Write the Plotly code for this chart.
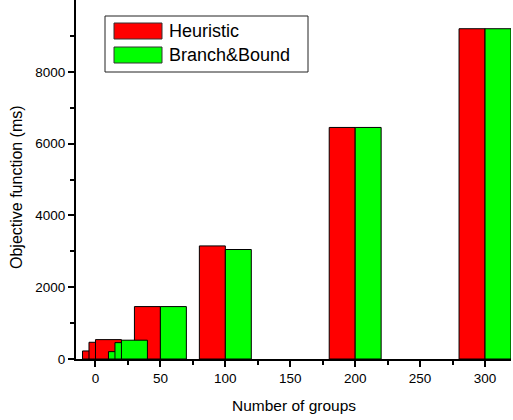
import plotly.graph_objects as go

groups = [10, 15, 20, 50, 100, 200, 300]
heuristic = [224, 466, 540, 1460, 3150, 6450, 9200]
branch_bound = [205, 456, 524, 1460, 3050, 6450, 9200]
series_names = ["Heuristic", "Branch&Bound"]
series_colors = ["#FF0000", "#00FF00"]
x_title = "Number of groups"
y_title = "Objective function (ms)"

W, H = 513, 420
ML, MR, MT, MB = 76, 2, 0, 61
PW, PH = W - ML - MR, H - MT - MB
FONT = "Liberation Sans, Arial, sans-serif"

def px_x(p):
    return (p - ML) / PW

def px_y(p):
    return (H - MB - p) / PH

fig = go.Figure()
fig.add_trace(go.Bar(x=groups, y=heuristic, name=series_names[0], width=20, offset=-20,
                     marker=dict(color=series_colors[0], line=dict(color="black", width=1)),
                     showlegend=False))
fig.add_trace(go.Bar(x=groups, y=branch_bound, name=series_names[1], width=20, offset=0,
                     marker=dict(color=series_colors[1], line=dict(color="black", width=1)),
                     showlegend=False))

# manual legend
shapes = [dict(type="rect", xref="paper", yref="paper",
               x0=px_x(105), x1=px_x(308), y0=px_y(72), y1=px_y(16),
               line=dict(color="#222", width=1), fillcolor="white", layer="above")]
annotations = []
for i, (nm, col) in enumerate(zip(series_names, series_colors)):
    top = 23 + i * 24
    shapes.append(dict(type="rect", xref="paper", yref="paper",
                       x0=px_x(114), x1=px_x(162), y0=px_y(top + 16), y1=px_y(top),
                       line=dict(color="#333", width=1), fillcolor=col, layer="above"))
    annotations.append(dict(text=nm, xref="paper", yref="paper", x=px_x(167), y=px_y(top + 8),
                            xanchor="left", yanchor="middle", showarrow=False,
                            font=dict(family=FONT, size=18, color="black")))

# axis titles
annotations.append(dict(text=x_title, xref="paper", yref="paper", x=px_x(293.5), y=px_y(405),
                        xanchor="center", yanchor="middle", showarrow=False,
                        font=dict(family=FONT, size=15.5, color="black")))
annotations.append(dict(text=y_title, xref="paper", yref="paper", x=px_x(16), y=px_y(187),
                        xanchor="center", yanchor="middle", showarrow=False, textangle=-90,
                        font=dict(family=FONT, size=16, color="black")))

fig.update_layout(
    width=W, height=H, barmode="overlay",
    margin=dict(l=ML, r=MR, t=MT, b=MB, autoexpand=False),
    paper_bgcolor="white", plot_bgcolor="white",
    font=dict(family=FONT, size=13.5, color="black"),
    shapes=shapes, annotations=annotations,
    xaxis=dict(range=[-15, 320], tickvals=[0, 50, 100, 150, 200, 250, 300],
               ticks="outside", ticklen=6, tickwidth=1.5, tickcolor="black", automargin=False,
               showline=True, linecolor="black", linewidth=2, showgrid=False, zeroline=False,
               minor=dict(tickvals=[25, 75, 125, 175, 225, 275], ticks="outside", ticklen=4,
                          tickwidth=1.5, tickcolor="black", showgrid=False)),
    yaxis=dict(range=[0, 10000], tickvals=[0, 2000, 4000, 6000, 8000],
               ticks="outside", ticklen=6, tickwidth=1.5, tickcolor="black", automargin=False,
               showline=True, linecolor="black", linewidth=2, showgrid=False, zeroline=False,
               minor=dict(tickvals=[1000, 3000, 5000, 7000, 9000], ticks="outside", ticklen=4,
                          tickwidth=1.5, tickcolor="black", showgrid=False)),
)

fig.write_html("out.html", config={"displayModeBar": False},
               post_script="document.body.style.margin='0';")
